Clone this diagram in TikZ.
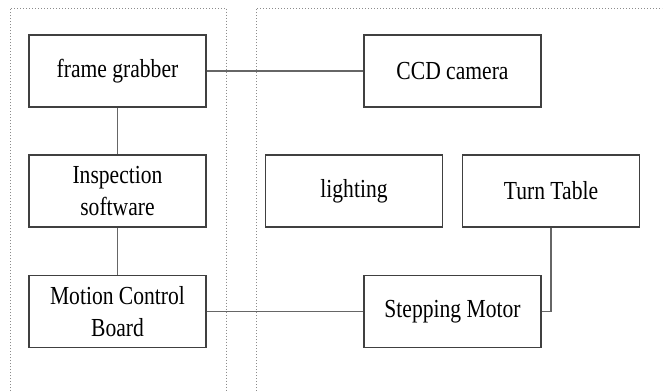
\documentclass[tikz,border=0pt]{standalone}
\usepackage{fontspec}
\setmainfont{Liberation Serif}[FakeStretch=0.83]
\begin{document}
\begin{tikzpicture}[x=1pt,y=-1pt,
  blk/.style={draw=black!75, line width=1.2pt, fill=white, minimum width=177pt, minimum height=72pt,
    inner sep=0pt, align=center, font=\fontsize{26}{32}\selectfont},
  wire/.style={draw=black!60, line width=1.4pt},
  frame/.style={draw=black!45, line width=0.8pt, dash pattern=on 1pt off 2pt}]
\useasboundingbox (0,0) rectangle (664,391);
% dotted panels
\draw[frame] (10,391) -- (10,8) -- (226.5,8) -- (226.5,391);
\draw[frame] (256,391) -- (256,8) -- (662,8);
% blocks
\node[blk] (fg)  at (117.5,71)   {frame grabber};
\node[blk] (ccd) at (452.5,71)   {CCD camera};
\node[blk] (ins) at (117.5,191)  {Inspection\\software};
\node[blk] (mcb) at (117.5,311.5){Motion Control\\Board};
\node[blk] (lig) at (354,191)    {lighting};
\node[blk] (tt)  at (551,191)    {Turn Table};
\node[blk] (sm)  at (452.5,311.5){Stepping Motor};
% connectors
\draw[wire] (fg.east) -- (ccd.west);
\draw[wire] (fg.south) -- (ins.north);
\draw[wire] (ins.south) -- (mcb.north);
\draw[wire] (mcb.east) -- (sm.west);
\draw[wire] (sm.east) -| (tt.south);
\end{tikzpicture}
\end{document}
